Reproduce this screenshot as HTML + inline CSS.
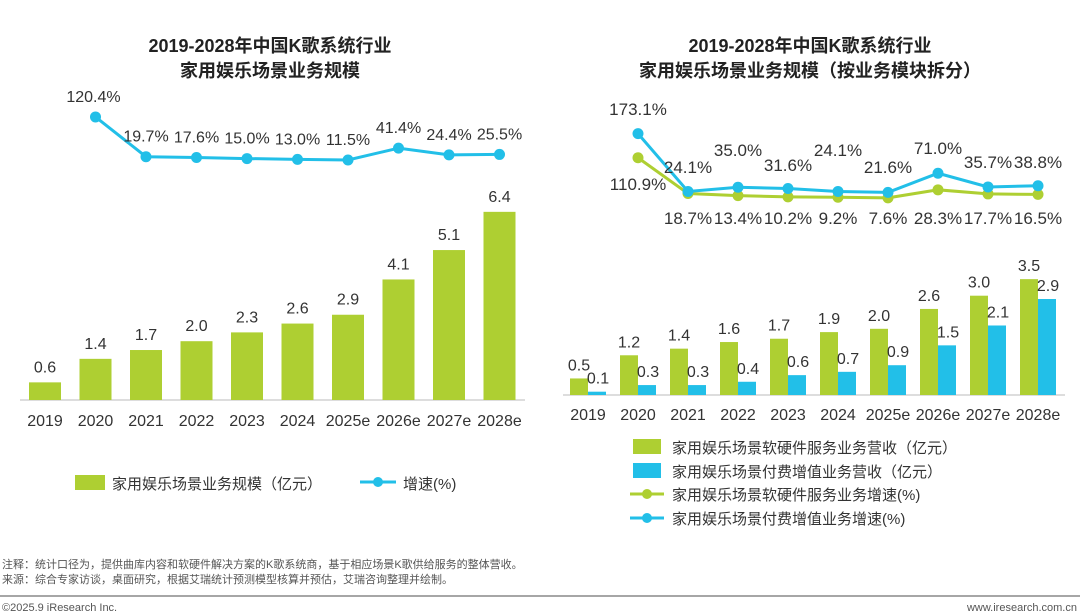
<!DOCTYPE html>
<html><head><meta charset="utf-8">
<style>
body{margin:0;background:#fff;width:1080px;height:616px;overflow:hidden;font-family:"Liberation Sans","Noto Sans CJK SC",sans-serif;}
svg{display:block}
text{font-family:"Liberation Sans","Noto Sans CJK SC",sans-serif;}
</style></head>
<body>
<svg id="c" width="1080" height="616">
<text x="270" y="52" text-anchor="middle" font-size="18" font-weight="bold" fill="#222">2019-2028年中国K歌系统行业</text>
<text x="270" y="77" text-anchor="middle" font-size="18" font-weight="bold" fill="#222">家用娱乐场景业务规模</text>
<text x="810" y="52" text-anchor="middle" font-size="18" font-weight="bold" fill="#222">2019-2028年中国K歌系统行业</text>
<text x="810" y="77" text-anchor="middle" font-size="18" font-weight="bold" fill="#222">家用娱乐场景业务规模（按业务模块拆分）</text>
<line x1="20" y1="400" x2="525" y2="400" stroke="#bbb"/>
<line x1="563" y1="395" x2="1065" y2="395" stroke="#bbb"/>
<g id="L"></g><g id="R"></g>
<rect x="75" y="475" width="30" height="15" fill="#aecf32"/>
<text x="112" y="489" font-size="15" fill="#333">家用娱乐场景业务规模（亿元）</text>
<line x1="360" y1="482" x2="396" y2="482" stroke="#22bfe8" stroke-width="3"/>
<circle cx="378" cy="482" r="5" fill="#22bfe8"/>
<text x="403" y="489" font-size="15" fill="#333">增速(%)</text>
<rect x="633" y="439" width="28" height="15" fill="#aecf32"/>
<text x="672" y="453" font-size="15" fill="#333">家用娱乐场景软硬件服务业务营收（亿元）</text>
<rect x="633" y="463" width="28" height="15" fill="#22bfe8"/>
<text x="672" y="477" font-size="15" fill="#333">家用娱乐场景付费增值业务营收（亿元）</text>
<line x1="630" y1="494" x2="664" y2="494" stroke="#aecf32" stroke-width="3"/>
<circle cx="647" cy="494" r="5" fill="#aecf32"/>
<text x="672" y="500" font-size="15" fill="#333">家用娱乐场景软硬件服务业务增速(%)</text>
<line x1="630" y1="518" x2="664" y2="518" stroke="#22bfe8" stroke-width="3"/>
<circle cx="647" cy="518" r="5" fill="#22bfe8"/>
<text x="672" y="524" font-size="15" fill="#333">家用娱乐场景付费增值业务增速(%)</text>
<text x="2" y="568" font-size="11" fill="#555">注释：统计口径为，提供曲库内容和软硬件解决方案的K歌系统商，基于相应场景K歌供给服务的整体营收。</text>
<text x="2" y="583" font-size="11" fill="#555">来源：综合专家访谈，桌面研究，根据艾瑞统计预测模型核算并预估，艾瑞咨询整理并绘制。</text>
<line x1="0" y1="596" x2="1080" y2="596" stroke="#888" stroke-width="1.5"/>
<text x="2" y="611" font-size="11" fill="#555">©2025.9 iResearch Inc.</text>
<text x="1077" y="611" text-anchor="end" font-size="11" fill="#555">www.iresearch.com.cn</text>
</svg>
<script>
const categories=["2019","2020","2021","2022","2023","2024","2025e","2026e","2027e","2028e"];
const scaleValues=[0.6,1.4,1.7,2.0,2.3,2.6,2.9,4.1,5.1,6.4];
const scaleLabels=["0.6","1.4","1.7","2.0","2.3","2.6","2.9","4.1","5.1","6.4"];
const growthValues=[null,120.4,19.7,17.6,15.0,13.0,11.5,41.4,24.4,25.5];
const growthLabels=["","120.4%","19.7%","17.6%","15.0%","13.0%","11.5%","41.4%","24.4%","25.5%"];
const hwValues=[0.5,1.2,1.4,1.6,1.7,1.9,2.0,2.6,3.0,3.5];
const hwLabels=["0.5","1.2","1.4","1.6","1.7","1.9","2.0","2.6","3.0","3.5"];
const paidValues=[0.1,0.3,0.3,0.4,0.6,0.7,0.9,1.5,2.1,2.9];
const paidLabels=["0.1","0.3","0.3","0.4","0.6","0.7","0.9","1.5","2.1","2.9"];
const hwGrowth=[null,110.9,18.7,13.4,10.2,9.2,7.6,28.3,17.7,16.5];
const hwGrowthLabels=["","110.9%","18.7%","13.4%","10.2%","9.2%","7.6%","28.3%","17.7%","16.5%"];
const paidGrowth=[null,173.1,24.1,35.0,31.6,24.1,21.6,71.0,35.7,38.8];
const paidGrowthLabels=["","173.1%","24.1%","35.0%","31.6%","24.1%","21.6%","71.0%","35.7%","38.8%"];
const paidLabelLift=[0,0,0,17,2,17,0,19,5,5];

const NS="http://www.w3.org/2000/svg";
function mk(p,tag,a){const e=document.createElementNS(NS,tag);for(const k in a)e.setAttribute(k,a[k]);p.appendChild(e);return e;}
const G="#aecf32",B="#22bfe8";
const L=document.getElementById('L');
const lx=i=>45+i*50.5, ly=v=>400-v*29.4, lg=v=>164.5-v*0.395;
categories.forEach((c,i)=>{
  const t=mk(L,'text',{x:lx(i),y:426,'text-anchor':'middle','font-size':16,fill:'#333'});t.textContent=c;
  
  
  const r=mk(L,'rect',{x:lx(i)-16,y:ly(scaleValues[i]),width:32,height:400-ly(scaleValues[i]),fill:G});
  
  
  const v=mk(L,'text',{x:lx(i),y:ly(scaleValues[i])-10,'text-anchor':'middle','font-size':16,fill:'#333'});v.textContent=scaleLabels[i];
  
  
});
let pts=[];growthValues.forEach((v,i)=>{if(v!=null)pts.push([lx(i),lg(v)]);});
const pl=mk(L,'polyline',{points:pts.map(p=>p.join(',')).join(' '),fill:'none',stroke:B,'stroke-width':3});


growthValues.forEach((v,i)=>{if(v==null)return;
  const c=mk(L,'circle',{cx:lx(i),cy:lg(v),r:5.5,fill:B});
  
  
  const t=mk(L,'text',{x:i==1?lx(i)-2:lx(i),y:lg(v)-15,'text-anchor':'middle','font-size':16,fill:'#333'});t.textContent=growthLabels[i];
  
  
});
const R=document.getElementById('R');
const rx=i=>588+i*50, ry=v=>395-v*33.1, rg=v=>200.8-v*0.388;
categories.forEach((c,i)=>{
  const t=mk(R,'text',{x:rx(i),y:420,'text-anchor':'middle','font-size':16,fill:'#333'});t.textContent=c;
  
  
  const g=mk(R,'rect',{x:rx(i)-18,y:ry(hwValues[i]),width:18,height:395-ry(hwValues[i]),fill:G});
  
  
  const b=mk(R,'rect',{x:rx(i),y:ry(paidValues[i]),width:18,height:395-ry(paidValues[i]),fill:B});
  
  
  const gv=mk(R,'text',{x:rx(i)-9,y:ry(hwValues[i])-8,'text-anchor':'middle','font-size':16,fill:'#333'});gv.textContent=hwLabels[i];
  
  
  const bv=mk(R,'text',{x:rx(i)+10,y:ry(paidValues[i])-8,'text-anchor':'middle','font-size':16,fill:'#333'});bv.textContent=paidLabels[i];
  
  
});
function series(arr,col,name){let p=[];arr.forEach((v,i)=>{if(v!=null)p.push([rx(i),rg(v)]);});
  const l=mk(R,'polyline',{points:p.map(q=>q.join(',')).join(' '),fill:'none',stroke:col,'stroke-width':3});
  
  
  arr.forEach((v,i)=>{if(v==null)return;const c=mk(R,'circle',{cx:rx(i),cy:rg(v),r:5.5,fill:col});
    
    });
}
series(hwGrowth,G,'right-hw-growth');
series(paidGrowth,B,'right-paid-growth');
hwGrowth.forEach((v,i)=>{if(v==null)return;
  const t=mk(R,'text',{x:rx(i),y:i==1?190:224,'text-anchor':'middle','font-size':17,fill:'#333'});t.textContent=hwGrowthLabels[i];
  
  
});
paidGrowth.forEach((v,i)=>{if(v==null)return;
  const y=i==1?115:173-paidLabelLift[i];
  const t=mk(R,'text',{x:rx(i),y:y,'text-anchor':'middle','font-size':17,fill:'#333'});t.textContent=paidGrowthLabels[i];
  
  
});
</script>
</body></html>
